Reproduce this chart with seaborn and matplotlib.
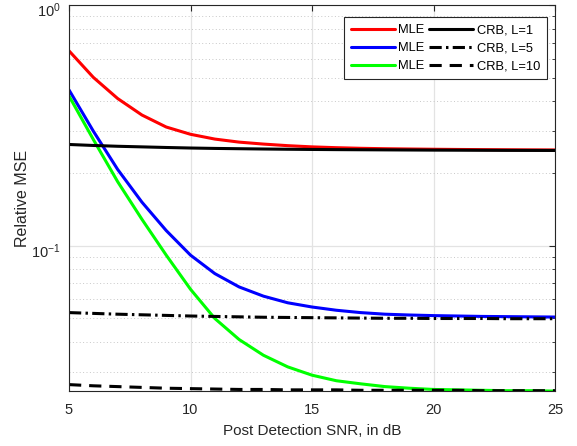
import matplotlib
matplotlib.use("Agg")
import matplotlib.pyplot as plt
import matplotlib.transforms as mtransforms
import numpy as np
import pandas as pd
import seaborn as sns
from matplotlib.ticker import LogLocator, NullFormatter

# Post-detection SNR grid (dB)
snr_db = [5, 6, 7, 8, 9, 10, 11, 12, 13, 14, 15, 16, 17, 18, 19, 20, 21, 22, 23, 24, 25]

# Relative MSE of the maximum-likelihood estimator
mle_l1 = [0.647, 0.502, 0.410, 0.350, 0.312, 0.291, 0.278, 0.270, 0.265, 0.261, 0.258,
          0.256, 0.2545, 0.2535, 0.2528, 0.2522, 0.2517, 0.2513, 0.2510, 0.2507, 0.2505]
mle_l5 = [0.445, 0.300, 0.208, 0.152, 0.1158, 0.0915, 0.0767, 0.0675, 0.0618, 0.0580, 0.0557,
          0.0540, 0.0528, 0.0520, 0.0516, 0.0513, 0.0511, 0.0509, 0.0508, 0.0507, 0.0506]
mle_l10 = [0.420, 0.277, 0.185, 0.129, 0.0915, 0.0660, 0.0499, 0.0408, 0.0351, 0.0314, 0.0290,
           0.0275, 0.0267, 0.0260, 0.0256, 0.0253, 0.0252, 0.0251, 0.0250, 0.0250, 0.0249]

# Cramer-Rao bounds
crb_l1 = [0.264, 0.2615, 0.2595, 0.2580, 0.2565, 0.2552, 0.2542, 0.2535, 0.2528, 0.2522, 0.2517,
          0.2513, 0.2510, 0.2507, 0.2504, 0.2501, 0.2499, 0.2497, 0.2495, 0.2494, 0.2493]
crb_l5 = [0.0528, 0.0524, 0.0520, 0.0517, 0.0514, 0.0511, 0.0509, 0.0507, 0.0505, 0.0504, 0.0503,
          0.0502, 0.0501, 0.0500, 0.0500, 0.0499, 0.0499, 0.0499, 0.0498, 0.0498, 0.0498]
crb_l10 = [0.0265, 0.0262, 0.0260, 0.0258, 0.0256, 0.0255, 0.0254, 0.0253, 0.0253, 0.0252, 0.0252,
           0.0252, 0.0251, 0.0251, 0.0251, 0.0251, 0.0251, 0.0250, 0.0250, 0.0250, 0.0250]

legend_labels = ["MLE", "MLE", "MLE", "CRB, L=1", "CRB, L=5", "CRB, L=10"]

sns.set_theme(style="white")
plt.rcParams["font.family"] = ["Liberation Sans", "DejaVu Sans"]
plt.rcParams["mathtext.fontset"] = "custom"
plt.rcParams["mathtext.rm"] = "Liberation Sans"
plt.rcParams["mathtext.it"] = "Liberation Sans:italic"
plt.rcParams["mathtext.bf"] = "Liberation Sans:bold"

ink = "#262626"

fig, ax = plt.subplots(figsize=(5.77, 4.46), dpi=100)
fig.subplots_adjust(left=0.1196, right=0.962, bottom=0.124, top=0.988)

df = pd.DataFrame({"snr": snr_db})
series = [
    (mle_l1, "#ff0000", None),
    (mle_l5, "#0000ff", None),
    (mle_l10, "#00ff00", None),
    (crb_l1, "black", None),
    (crb_l5, "black", (4.0, 1.4, 0.8, 1.4)),
    (crb_l10, "black", (4.0, 2.6)),
]

handles = []
for (vals, color, dash), lab in zip(series, legend_labels):
    d = df.assign(mse=vals)
    sns.lineplot(data=d, x="snr", y="mse", ax=ax, color=color, linewidth=2.2,
                 label=lab, legend=False)
    line = ax.lines[-1]
    if dash is not None:
        line.set_dashes(dash)
    handles.append(line)

ax.set_yscale("log")
ax.set_xlim(5, 25)
ax.set_ylim(0.025, 1.0)

ax.set_xticks([5, 10, 15, 20, 25])
ax.yaxis.set_major_locator(LogLocator(base=10, numticks=10))
ax.yaxis.set_minor_locator(LogLocator(base=10, subs=np.arange(2, 10), numticks=20))
ax.yaxis.set_minor_formatter(NullFormatter())

ax.grid(True, which="major", color="#e3e3e3", linewidth=0.9, linestyle="-")
ax.grid(True, which="minor", axis="y", color="#c8c8c8", linewidth=0.7, linestyle=(0, (1, 2.5)))
ax.set_axisbelow(True)

for s in ax.spines.values():
    s.set_visible(True)
    s.set_color(ink)
    s.set_linewidth(0.8)

ax.tick_params(which="both", direction="in", top=True, right=True, colors=ink,
               labelcolor=ink, labelsize=10.5)
ax.tick_params(which="major", length=4.5, width=0.8)
ax.tick_params(axis="x", which="major", pad=9)
ax.tick_params(axis="y", which="major", pad=6)
ax.tick_params(which="minor", length=2.5, width=0.6)
ax.tick_params(axis="x", which="minor", bottom=False, top=False)

# Power-of-ten labels sit slightly below their ticks
shift = mtransforms.ScaledTranslation(0, -3 / 72, fig.dpi_scale_trans)
for lbl in ax.get_yticklabels():
    lbl.set_transform(lbl.get_transform() + shift)

ax.set_xlabel("Post Detection SNR, in dB", fontsize=11, color=ink, labelpad=5)
ax.set_ylabel("Relative MSE", fontsize=11.5, color=ink, labelpad=1)

leg = ax.legend(handles, legend_labels, ncol=2, loc="upper right",
                bbox_to_anchor=(0.9835, 0.969), borderaxespad=0,
                fontsize=9.3, handlelength=3.4, handletextpad=0.25,
                columnspacing=0.4, labelspacing=0.45, borderpad=0.55,
                fancybox=False, framealpha=1, edgecolor=ink)
leg.get_frame().set_linewidth(0.8)
for t in leg.get_texts():
    t.set_color("black")

fig.savefig("out.png", dpi=100)
